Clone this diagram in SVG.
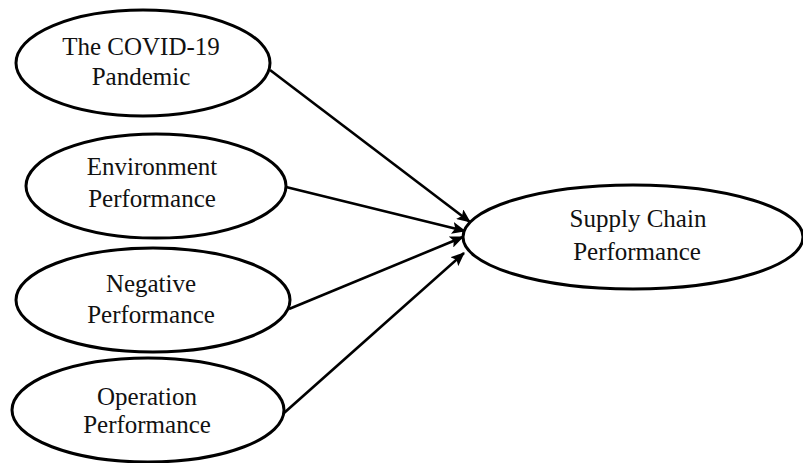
<svg xmlns="http://www.w3.org/2000/svg" width="803" height="463" viewBox="0 0 803 463">
<style>
.node ellipse{fill:#fff;stroke:#000;stroke-width:3}
.node text{font-family:"Liberation Serif","Times New Roman",serif;font-size:25px;fill:#111;text-anchor:middle}
.edges line{stroke:#000;stroke-width:2.6;marker-end:url(#arr)}
</style>
<defs>
<marker id="arr" markerUnits="userSpaceOnUse" viewBox="0 0 14 12" refX="13" refY="6" markerWidth="14" markerHeight="12" orient="auto">
<path d="M0,0 L14,6 L0,12 L3,6 Z" fill="#000"/>
</marker>
</defs>
<rect width="803" height="463" fill="#fff"/>
<g class="edges">
<line x1="270" y1="70" x2="470" y2="222"/>
<line x1="286" y1="187" x2="465" y2="231"/>
<line x1="289" y1="309" x2="463" y2="237"/>
<line x1="284" y1="413" x2="464" y2="253"/>
</g>
<g id="covid" class="node">
<ellipse cx="143" cy="63" rx="127" ry="53"/>
<text x="141" y="55">The COVID-19</text>
<text x="141" y="85">Pandemic</text>
</g>
<g id="environment" class="node">
<ellipse cx="156" cy="186" rx="130" ry="52"/>
<text x="152" y="175">Environment</text>
<text x="152" y="207">Performance</text>
</g>
<g id="negative" class="node">
<ellipse cx="153" cy="300" rx="137" ry="52"/>
<text x="151" y="292">Negative</text>
<text x="151" y="323">Performance</text>
</g>
<g id="operation" class="node">
<ellipse cx="148" cy="410" rx="136" ry="52"/>
<text x="147" y="405">Operation</text>
<text x="147" y="433">Performance</text>
</g>
<g id="supply" class="node">
<ellipse cx="633" cy="237" rx="170" ry="52"/>
<text x="638" y="227">Supply Chain</text>
<text x="637" y="260">Performance</text>
</g>
</svg>
